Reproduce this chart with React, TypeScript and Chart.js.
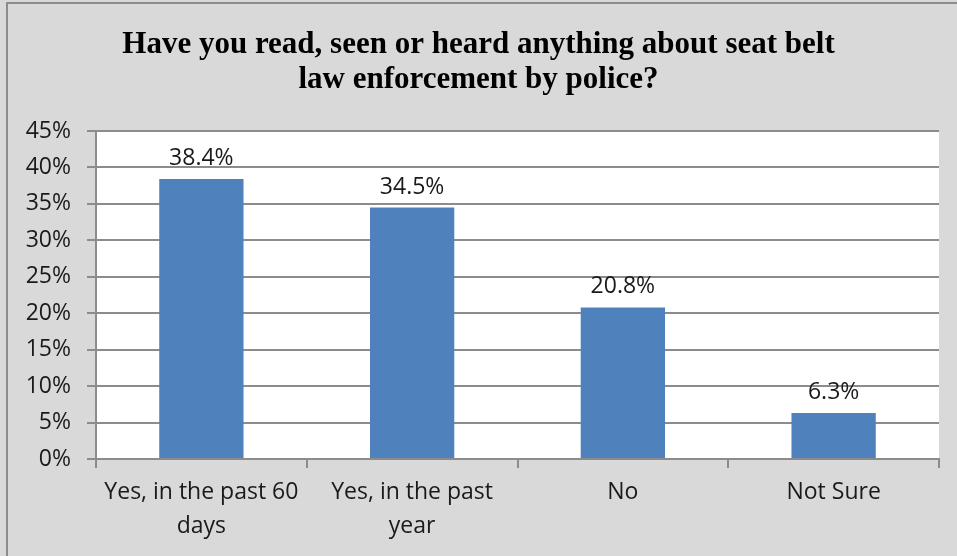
import React, { useEffect, useRef } from "react";
import { Chart, registerables } from "chart.js";

Chart.register(...registerables);

const categories: (string | string[])[] = [
  ["Yes, in the past 60", "days"],
  ["Yes, in the past", "year"],
  "No",
  "Not Sure",
];
const values: number[] = [38.4, 34.5, 20.8, 6.3];
const titleLines: string[] = [
  "Have you read, seen or heard anything about seat belt",
  "law enforcement by police?",
];
const yMax = 45;
const yStep = 5;

const GRID = "#8c8c8c";
const BG = "#d9d9d9";
const BAR = "#4f81bd";
const TEXT = "#1a1a1a";
const SANS = "'Open Sans', 'Liberation Sans', sans-serif";

export default function App() {
  const ref = useRef<HTMLCanvasElement>(null);
  useEffect(() => {
    document.body.style.margin = "0";
    const bgPlugin = {
      id: "bg",
      beforeDraw(chart: any) {
        const { ctx, width, height, chartArea } = chart;
        ctx.save();
        ctx.fillStyle = BG;
        ctx.fillRect(0, 0, width, height);
        ctx.strokeStyle = GRID;
        ctx.lineWidth = 2;
        ctx.strokeRect(7, 3, width + 20, height + 20);
        ctx.fillStyle = "#ffffff";
        ctx.fillRect(
          chartArea.left,
          chartArea.top,
          chartArea.right - chartArea.left,
          chartArea.bottom - chartArea.top
        );
        ctx.fillStyle = "#000000";
        ctx.font = "bold 31px 'Liberation Serif', 'Times New Roman', serif";
        ctx.textAlign = "center";
        ctx.textBaseline = "alphabetic";
        ctx.fillText(titleLines[0], width / 2, 53);
        ctx.fillText(titleLines[1], width / 2, 88);
        ctx.restore();
      },
      afterDatasetsDraw(chart: any) {
        const { ctx } = chart;
        const meta = chart.getDatasetMeta(0);
        ctx.save();
        ctx.fillStyle = TEXT;
        ctx.font = "23px " + SANS;
        ctx.textAlign = "center";
        ctx.textBaseline = "alphabetic";
        meta.data.forEach((bar: any, i: number) => {
          ctx.fillText(values[i].toFixed(1) + "%", bar.x, bar.y - 14);
        });
        ctx.restore();
      },
    };
    const chart = new Chart(ref.current!, {
      type: "bar",
      data: {
        labels: categories,
        datasets: [
          {
            data: values,
            backgroundColor: BAR,
            categoryPercentage: 1,
            barPercentage: 0.4,
          },
        ],
      },
      options: {
        animation: false,
        responsive: false,
        layout: { padding: { top: 131, right: 18, left: 0, bottom: 0 } },
        plugins: {
          legend: { display: false },
          tooltip: { enabled: false },
          title: { display: false },
        },
        scales: {
          y: {
            min: 0,
            max: yMax,
            ticks: {
              stepSize: yStep,
              callback: (v: any) => v + "%",
              color: TEXT,
              font: { family: SANS, size: 23 },
              padding: 16,
            },
            grid: { color: GRID, lineWidth: 2, tickLength: 9 },
            border: { color: GRID, width: 2 },
            afterFit: (s: any) => {
              s.width = 96;
            },
          },
          x: {
            offset: true,
            ticks: {
              color: TEXT,
              font: { family: SANS, size: 23, lineHeight: 1.45 },
              padding: 8,
              maxRotation: 0,
              autoSkip: false,
            },
            grid: {
              offset: true,
              drawOnChartArea: false,
              color: GRID,
              lineWidth: 2,
              tickLength: 9,
            },
            border: { color: GRID, width: 2 },
            afterFit: (s: any) => {
              s.height = 97;
            },
          },
        },
      },
      plugins: [bgPlugin],
    });
    return () => chart.destroy();
  }, []);
  return (
    <div style={{ position: "fixed", left: 0, top: 0, width: 957, height: 556 }}>
      <canvas ref={ref} width={957} height={556} style={{ width: 957, height: 556 }} />
    </div>
  );
}
